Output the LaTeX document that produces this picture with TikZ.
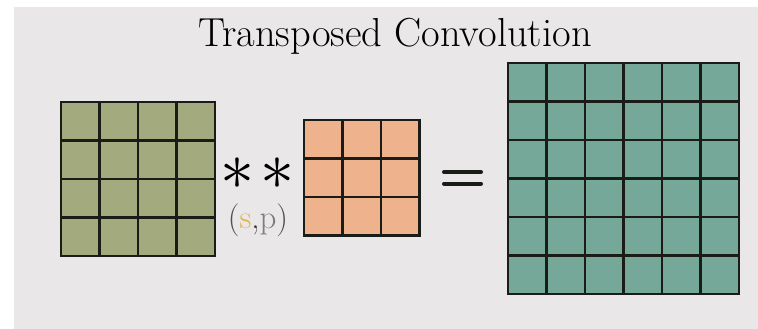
\documentclass[tikz,border=0pt]{standalone}
\usepackage{fontspec}
\setmainfont{Latin Modern Roman}
\usepackage{graphicx}
\usepackage{xcolor}
\definecolor{bgc}{RGB}{233,231,232}
\definecolor{olivec}{RGB}{163,170,126}
\definecolor{peachc}{RGB}{238,178,140}
\definecolor{tealc}{RGB}{118,168,153}
\definecolor{linec}{RGB}{26,28,24}
\definecolor{sgold}{RGB}{226,180,80}
\definecolor{pgray}{RGB}{125,125,125}
\definecolor{pargray}{RGB}{80,80,80}
\definecolor{commac}{RGB}{50,50,50}
\tikzset{
  gridline/.style={draw=linec, line width=2.1pt},
  symb/.style={inner sep=0pt, outer sep=0pt},
}
\newcommand{\cellgrid}[5]{% x0, y0, n, cell, fill
  \fill[#5] (#1,#2) rectangle ({#1+#3*#4},{#2+#3*#4});
  \foreach \k in {1,...,#3} {
    \draw[gridline] ({#1+(\k-1)*#4},#2) -- ({#1+(\k-1)*#4},{#2+#3*#4});
    \draw[gridline] (#1,{#2+(\k-1)*#4}) -- ({#1+#3*#4},{#2+(\k-1)*#4});
  }
  \draw[gridline] (#1,#2) rectangle ({#1+#3*#4},{#2+#3*#4});
}
\begin{document}
\begin{tikzpicture}[x=1pt,y=-1pt]
\useasboundingbox (0,0) rectangle (758,329);
\fill[bgc] (14,7) rectangle (758,329);
% title
\node[symb, anchor=base] (title) at (395,47) {\fontsize{40.5}{48}\selectfont Transposed Convolution};
% input 4x4
\cellgrid{61}{102}{4}{38.5}{olivec}
% operator
\node[symb] (ast1) at (237.5,174) {\scalebox{6.8}{$\ast$}};
\node[symb] (ast2) at (277.5,174) {\scalebox{6.8}{$\ast$}};
\node[symb] (sp) at (258,220) {\fontsize{33}{38}\selectfont\textcolor{pargray}{(}\textcolor{sgold}{s}\textcolor{commac}{,}\textcolor{pgray}{p}\textcolor{pargray}{)}};
% kernel 3x3
\cellgrid{304}{120}{3}{38.5}{peachc}
% equals
\draw[line width=4pt, linec, line cap=round] (444,172) -- (481,172);
\draw[line width=4pt, linec, line cap=round] (444,183.5) -- (481,183.5);
% output 6x6
\cellgrid{508}{63}{6}{38.5}{tealc}
\end{tikzpicture}
\end{document}
